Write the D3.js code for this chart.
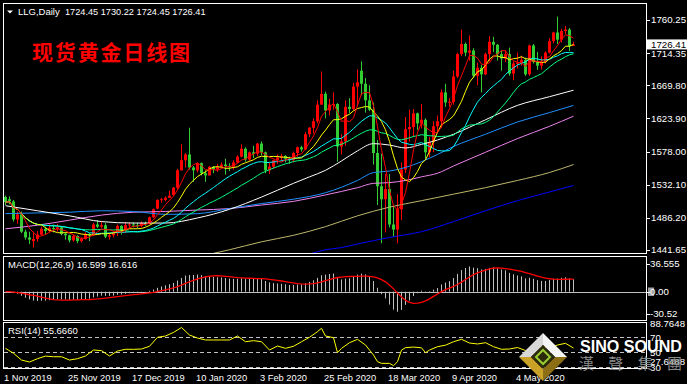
<!DOCTYPE html>
<html lang="en">
<head>
<meta charset="utf-8">
<title>LLG Daily</title>
<script src="https://d3js.org/d3.v7.min.js"></script>
<style>
  body { margin: 0; background: #000; }
  svg text { font-family: "Liberation Sans", Arial, sans-serif; }
</style>
</head>
<body>
<div id="chart"></div>
<script>
// daily bars, 1 Nov 2019 .. 22 May 2020 (red = up, green = down)
var openP = [1515,1512,1509,1484,1491,1467,1459,1454,1457,1463,
  1471,1468,1472,1471,1473,1464,1462,1455,1461,1454,
  1457,1464,1462,1477,1474,1476,1460,1462,1465,1475,
  1469,1476,1477,1476,1475,1479,1478,1487,1499,1511,
  1511,1514,1518,1528,1552,1566,1574,1556,1552,1562,
  1548,1545,1557,1553,1557,1560,1558,1557,1563,1571,
  1582,1567,1577,1575,1589,1577,1552,1557,1566,1570,
  1572,1568,1566,1576,1584,1581,1602,1611,1620,1643,
  1658,1635,1643,1644,1585,1592,1640,1637,1668,1690,
  1672,1649,1636,1576,1530,1512,1526,1477,1470,1498,
  1553,1609,1612,1631,1617,1622,1577,1591,1613,1620,
  1660,1646,1647,1682,1713,1727,1715,1718,1683,1694,
  1685,1713,1730,1726,1713,1707,1713,1686,1700,1701,
  1705,1685,1725,1702,1697,1702,1715,1731,1743,1733,
  1745,1747,1724.45];
var highP = [1517,1516,1511,1495,1495,1470,1467,1467,1468,1474,
  1474,1477,1477,1478,1475,1466,1463,1463,1462,1459,
  1466,1465,1479,1483,1482,1479,1465,1467,1477,1476,
  1480,1479,1480,1479,1481,1481,1488,1499,1512,1514,
  1516,1524,1529,1554,1588,1576,1611,1558,1563,1563,
  1552,1558,1558,1561,1563,1568,1562,1566,1573,1588,
  1584,1578,1586,1590,1592,1578,1563,1567,1574,1575,
  1573,1571,1578,1585,1586,1605,1612,1624,1649,1689,
  1661,1651,1660,1645,1602,1649,1652,1673,1692,1703,
  1680,1670,1646,1594,1575,1547,1547,1503,1519,1563,
  1626,1636,1637,1632,1644,1624,1598,1620,1628,1664,
  1672,1652,1690,1715,1747,1729,1739,1721,1701,1698,
  1715,1738,1737,1727,1718,1718,1722,1703,1715,1711,
  1708,1726,1727,1716,1710,1717,1735,1744,1765,1748,
  1752,1749,1730.22];
var lowP = [1504,1505,1481,1478,1465,1456,1450,1445,1453,1462,
  1463,1466,1466,1467,1462,1456,1452,1453,1451,1452,
  1456,1454,1461,1472,1472,1458,1456,1459,1461,1463,
  1465,1472,1473,1472,1473,1475,1477,1486,1498,1507,
  1509,1514,1517,1525,1552,1556,1553,1536,1549,1545,
  1536,1545,1548,1550,1556,1546,1551,1553,1562,1570,
  1564,1565,1569,1572,1573,1548,1547,1554,1561,1566,
  1563,1561,1563,1571,1578,1580,1598,1603,1617,1643,
  1624,1628,1636,1564,1574,1586,1631,1635,1641,1656,
  1632,1634,1560,1504,1451,1466,1473,1460,1451,1483,
  1548,1592,1598,1608,1610,1568,1570,1577,1604,1611,
  1640,1640,1643,1680,1710,1710,1704,1680,1670,1660,
  1684,1703,1716,1704,1690,1702,1683,1677,1693,1697,
  1683,1683,1700,1691,1692,1700,1714,1728,1727,1729,
  1741,1717,1724.45];
var closeP = [1508,1509,1484,1491,1467,1459,1456,1457,1463,1471,
  1468,1472,1471,1473,1464,1462,1455,1461,1454,1457,
  1464,1462,1477,1474,1476,1460,1462,1465,1475,1469,
  1476,1477,1476,1475,1479,1478,1487,1498,1511,1512,
  1514,1517,1528,1552,1566,1574,1556,1552,1562,1548,
  1545,1557,1553,1557,1560,1558,1557,1563,1571,1582,
  1567,1577,1575,1589,1577,1552,1557,1566,1570,1572,
  1568,1566,1576,1584,1581,1602,1611,1620,1643,1658,
  1635,1643,1644,1585,1592,1640,1637,1668,1674,1672,
  1649,1636,1576,1530,1512,1526,1477,1470,1498,1553,
  1609,1612,1631,1617,1622,1577,1591,1613,1620,1660,
  1646,1647,1682,1713,1727,1715,1718,1683,1694,1685,
  1713,1730,1726,1713,1707,1713,1686,1700,1701,1705,
  1685,1725,1702,1697,1702,1715,1731,1743,1733,1745,
  1747,1724,1726.41];

// slow moving averages: [bar, price]
var maWhite = [[0,1503],[8,1496],[16,1489],[24,1481],[32,1479],[40,1479],[48,1486],[56,1498],
  [64,1515],[72,1534],[76,1543],[80,1552],[84,1565],[88,1579],[92,1589],[96,1587],[100,1583],
  [104,1588],[108,1594],[112,1602],[120,1622],[128,1642],[136,1654],[142,1663]];
var maDodger = [[0,1492],[8,1493],[16,1494],[24,1496],[32,1495],[40,1491],[48,1492],[56,1499],
  [64,1506],[72,1512],[80,1521],[88,1538],[92,1549],[96,1551],[100,1556],[104,1564],[108,1574],
  [112,1585],[120,1602],[128,1619],[136,1632],[142,1642]];
var maViolet = [[0,1471],[8,1476],[16,1483],[24,1490],[32,1494],[40,1495],[48,1497],[56,1499],
  [64,1504],[72,1509],[80,1518],[88,1528],[92,1534],[96,1535],[100,1538],[104,1543],[108,1548],
  [112,1558],[120,1577],[128,1596],[136,1613],[142,1627]];
var maKhaki = [[52,1437],[56,1442],[64,1453],[72,1462],[80,1474],[88,1489],[96,1501],[104,1510],
  [112,1519],[120,1528],[128,1538],[136,1549],[142,1560]];
var maBlue = [[76,1436],[80,1442],[84,1445],[88,1450],[96,1459],[104,1467],[112,1481],[120,1496],
  [128,1510],[136,1522],[142,1531]];

// RSI(14): [bar, value]
var rsiPts = [[0,55.3],[2,48.7],[4,39.7],[6,37.1],[8,41.5],[10,45],[12,44.1],[14,44.1],[16,39.7],
  [18,41.5],[20,45.1],[22,53.1],[24,52.2],[26,45.1],[28,51.7],[30,54],[32,54],[34,54.4],[36,58],
  [38,70],[40,71.7],[42,76.5],[44,83],[46,73],[48,69],[50,66.4],[52,66.4],[54,66.4],[56,66.4],
  [58,71.7],[60,64.1],[62,65.5],[64,64.1],[66,53.1],[68,58.4],[70,55.3],[72,58],[74,64.1],[76,70],
  [78,77.5],[79,82],[80,71.7],[82,69.5],[83,49.5],[84,55.3],[86,62.8],[88,67.3],[90,59.7],[92,46.4],
  [93,37.5],[94,35.3],[96,35.3],[97,32.2],[98,37.5],[99,53],[100,56.2],[102,57],[104,56],[105,49.5],
  [106,53],[108,57.5],[110,59.5],[112,64.1],[114,67.3],[116,62.4],[118,61.1],[120,62.8],[122,57.5],
  [124,54],[126,54.4],[128,56.4],[130,52.4],[132,54.4],[134,57.1],[136,55.7],[138,59.7],[140,62],
  [142,55.67]];

var priceTicks = [1760.25, 1714.35, 1669.80, 1623.90, 1578.00, 1532.10, 1486.20, 1441.65];
var dateLabels = ["1 Nov 2019","25 Nov 2019","17 Dec 2019","10 Jan 2020","3 Feb 2020",
  "25 Feb 2020","18 Mar 2020","9 Apr 2020","4 May 2020"];
var dateIdx = [0,16,32,48,64,80,96,112,128];

var RED = "#ff0000", GREEN = "#32cd32";
var W = 687, H = 384;

var svg = d3.select("#chart").append("svg")
  .attr("width", W).attr("height", H)
  .style("display", "block").style("background", "#000");

var xS = d3.scaleLinear().domain([0, 142]).range([5.5, 573.5]);
var yP = d3.scaleLinear().domain([1441.65, 1760.25]).range([250, 20]);
var yM = d3.scaleLinear().domain([-37.7, 47.6]).range([320, 256]);
var yR = d3.scaleLinear().domain([27.6488, 88.7648]).range([369.1, 323.2]);

// clip areas
var defs = svg.append("defs");
defs.append("clipPath").attr("id", "cMain").append("rect").attr("x", 4).attr("y", 4).attr("width", 642).attr("height", 249);
defs.append("clipPath").attr("id", "cMacd").append("rect").attr("x", 4).attr("y", 257).attr("width", 642).attr("height", 63);
defs.append("clipPath").attr("id", "cRsi").append("rect").attr("x", 4).attr("y", 323).attr("width", 642).attr("height", 45);

// frames
[[3.5, 253.5], [256.5, 320.5], [322.5, 368.5]].forEach(function(p) {
  svg.append("rect").attr("x", 3.5).attr("y", p[0]).attr("width", 643).attr("height", p[1] - p[0])
    .attr("fill", "none").attr("stroke", "#fff");
});

// ---- main panel
var gMain = svg.append("g").attr("clip-path", "url(#cMain)");
var bars = closeP.map(function(c, i) { return {i: i, o: openP[i], h: highP[i], l: lowP[i], c: c}; });

gMain.selectAll("line.wick").data(bars).join("line").attr("class", "wick")
  .attr("x1", d => xS(d.i)).attr("x2", d => xS(d.i))
  .attr("y1", d => yP(d.h)).attr("y2", d => yP(d.l))
  .attr("stroke", d => d.c >= d.o ? RED : GREEN);
gMain.selectAll("rect.body").data(bars).join("rect").attr("class", "body")
  .attr("x", d => xS(d.i) - 1.5).attr("width", 3)
  .attr("y", d => yP(Math.max(d.o, d.c)))
  .attr("height", d => Math.max(1, Math.abs(yP(d.o) - yP(d.c))))
  .attr("fill", d => d.c >= d.o ? RED : GREEN);

function sma(arr, n) {
  return arr.map(function(v, i) { return d3.mean(arr.slice(Math.max(0, i - n + 1), i + 1)); });
}
function ema(arr, n) {
  var k = 2 / (n + 1), e = arr[0];
  return arr.map(function(v) { e = v * k + e * (1 - k); return e; });
}

var pairLine = d3.line().x(d => xS(d[0])).y(d => yP(d[1])).curve(d3.curveMonotoneX);
[[maBlue, "#0000ff"], [maKhaki, "#bdb76b"], [maViolet, "#ee82ee"], [maDodger, "#1e90ff"], [maWhite, "#ffffff"]]
  .forEach(function(m) {
    gMain.append("path").attr("d", pairLine(m[0])).attr("fill", "none").attr("stroke", m[1]).attr("stroke-width", 1);
  });

var idxLine = d3.line().x((d, i) => xS(i)).y(d => yP(d));
[[30, "#00ff7f"], [20, "#00ffff"], [10, "#ffff00"], [5, "#ff0000"]].forEach(function(m) {
  gMain.append("path").attr("d", idxLine(sma(closeP, m[0]))).attr("fill", "none").attr("stroke", m[1]).attr("stroke-width", 1);
});

// header
svg.append("path").attr("d", "M7,10.5 L13,10.5 L10,13.5 Z").attr("fill", "#fff");
svg.append("text").attr("x", 18).attr("y", 15).attr("fill", "#fff").attr("font-size", 9.5).text("LLG,Daily");
svg.append("text").attr("x", 65).attr("y", 15).attr("fill", "#fff").attr("font-size", 9.2)
  .text("1724.45 1730.22 1724.45 1726.41");
svg.append("text").attr("x", 32).attr("y", 60).attr("fill", "#ff0000").attr("font-size", 21)
  .attr("font-weight", "bold").style("font-family", "'Noto Sans CJK SC', sans-serif")
  .attr("textLength", 158).text("现货黄金日线图");

// price axis
priceTicks.forEach(function(v) {
  svg.append("line").attr("x1", 646).attr("x2", 650).attr("y1", Math.round(yP(v)) + 0.5).attr("y2", Math.round(yP(v)) + 0.5).attr("stroke", "#fff");
  svg.append("text").attr("x", 651).attr("y", yP(v)).attr("dy", "0.35em").attr("fill", "#fff")
    .attr("font-size", 9.7).text(v.toFixed(2));
});
var last = closeP[closeP.length - 1];
svg.append("rect").attr("x", 647).attr("y", yP(last) - 5).attr("width", 40).attr("height", 10).attr("fill", "#fff");
svg.append("text").attr("x", 651).attr("y", yP(last)).attr("dy", "0.35em").attr("fill", "#000")
  .attr("font-size", 9.7).text(last.toFixed(2));

// ---- MACD
var ema12 = ema(closeP, 12), ema26 = ema(closeP, 26);
var macdMain = ema12.map((v, i) => v - ema26[i]);
var macdSig = sma(macdMain, 9);
var gMacd = svg.append("g").attr("clip-path", "url(#cMacd)");
gMacd.append("line").attr("x1", 4).attr("x2", 646).attr("y1", Math.round(yM(0)) + 0.5).attr("y2", Math.round(yM(0)) + 0.5).attr("stroke", "#c0c0c0");
gMacd.selectAll("line.h").data(macdMain).join("line").attr("class", "h")
  .attr("x1", (d, i) => xS(i)).attr("x2", (d, i) => xS(i))
  .attr("y1", yM(0)).attr("y2", d => yM(d)).attr("stroke", "#c0c0c0");
gMacd.append("path").attr("d", d3.line().x((d, i) => xS(i)).y(d => yM(d))(macdSig))
  .attr("fill", "none").attr("stroke", RED).attr("stroke-width", 1.3);
svg.append("text").attr("x", 8).attr("y", 268).attr("fill", "#fff").attr("font-size", 9.5)
  .text("MACD(12,26,9) 16.599 16.616");
svg.append("rect").attr("x", 648).attr("y", 287.5).attr("width", 6).attr("height", 8.5).attr("fill", "#a0a0a0");
[[36.555, "36.555", 263.5], [0, "0.00", 291.7], [-30.52, "-30.52", 313.5]].forEach(function(t) {
  svg.append("line").attr("x1", 646).attr("x2", 650).attr("y1", Math.round(t[2]) + 0.5).attr("y2", Math.round(t[2]) + 0.5).attr("stroke", "#fff");
  svg.append("text").attr("x", 650).attr("y", t[2]).attr("dy", "0.35em").attr("fill", "#fff").attr("font-size", 9.7).text(t[1]);
});

// ---- RSI
var gRsi = svg.append("g").attr("clip-path", "url(#cRsi)");
[70, 50, 30].forEach(function(v) {
  gRsi.append("line").attr("x1", 4).attr("x2", 646).attr("y1", Math.round(yR(v)) + 0.5).attr("y2", Math.round(yR(v)) + 0.5)
    .attr("stroke", "#c0c0c0").attr("stroke-dasharray", "4,3");
});
gRsi.append("path").attr("d", d3.line().x(d => xS(d[0])).y(d => yR(d[1]))(rsiPts))
  .attr("fill", "none").attr("stroke", "#ffff00").attr("stroke-width", 1);
svg.append("text").attr("x", 8).attr("y", 334).attr("fill", "#fff").attr("font-size", 9.5).text("RSI(14) 55.6660");
[["88.7648", 88.7648], ["70", 70], ["50", 50], ["27.6488", 27.6488 + 10], ["30", 30]].forEach(function(t) {
  svg.append("text").attr("x", 650).attr("y", yR(t[1])).attr("dy", "0.35em").attr("fill", "#fff").attr("font-size", 9.7).text(t[0]);
});

// ---- date axis
dateLabels.forEach(function(s, k) {
  var x = xS(dateIdx[k]) - 1.5;
  svg.append("text").attr("x", x).attr("y", 381).attr("fill", "#fff").attr("font-size", 9.3).text(s);
});

// ---- watermark
var wm = svg.append("g");
wm.append("polygon").attr("points", "543,333 519,357 531,357 543,345").attr("fill", "#d8d8d8");
wm.append("polygon").attr("points", "543,333 567,357 555,357 543,345").attr("fill", "#f4f4f4");
wm.append("polygon").attr("points", "519,357 543,381 543,369 531,357").attr("fill", "#c9a227");
wm.append("polygon").attr("points", "567,357 543,381 543,369 555,357").attr("fill", "#8c6e14");
wm.append("polygon").attr("points", "543,345 555,357 543,369 531,357").attr("fill", "#2c2a0c");
wm.append("polygon").attr("points", "543,350 550,357 543,364 536,357").attr("fill", "none").attr("stroke", "#9acd32").attr("stroke-width", 2);
wm.append("text").attr("x", 580).attr("y", 352).attr("fill", "#fff").attr("font-size", 17).attr("font-weight", "bold")
  .attr("textLength", 102).attr("lengthAdjust", "spacingAndGlyphs").text("SINO SOUND");
wm.append("text").attr("x", 579).attr("y", 369).attr("fill", "#8a8a8a").attr("font-size", 15)
  .style("font-family", "'Noto Sans CJK TC', sans-serif")
  .attr("textLength", 103).text("漢 聲 集 團");
</script>
</body>
</html>
